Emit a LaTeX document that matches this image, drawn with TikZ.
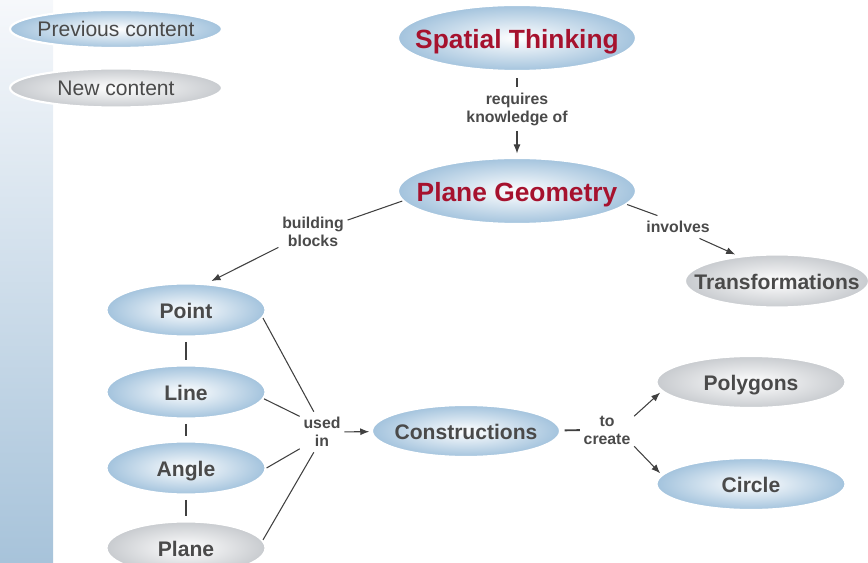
\documentclass[tikz,border=0pt]{standalone}
\usepackage{fontspec}
\setmainfont{Liberation Sans}
\usetikzlibrary{arrows.meta,shapes.geometric}
\definecolor{Ink}{HTML}{4A4A4A}
\definecolor{Title}{HTML}{A6122E}
\definecolor{Wire}{HTML}{404040}
\definecolor{BlueEdge}{HTML}{A3C3DD}
\definecolor{GreyEdge}{HTML}{C8CBCF}
\definecolor{StripTop}{HTML}{F6F8FB}
\definecolor{StripBot}{HTML}{A7C3DA}
\tikzset{
  bubble/.style={ellipse,draw=white,line width=1.2pt,inner sep=0pt},
  oldbubble/.style={bubble,inner color=white,outer color=BlueEdge},
  newbubble/.style={bubble,inner color=white,outer color=GreyEdge},
  big/.style={minimum width=4.76cm,minimum height=1.32cm},
  small/.style={minimum width=3.18cm,minimum height=1.06cm},
  wide/.style={minimum width=3.78cm,minimum height=1.04cm},
  capline/.style={text height=0.716em,text depth=0pt},
  word/.style={capline,yshift=-1.2pt,text=Ink,font=\fontsize{12}{14}\selectfont\bfseries},
  keyword/.style={capline,yshift=-0.6pt,text=Ink,font=\fontsize{12}{14}\selectfont},
  topword/.style={capline,yshift=-2.2pt,text=Title,font=\fontsize{15}{18}\selectfont\bfseries},
  linkword/.style={text=Ink,font=\fontsize{9}{10.2}\selectfont\bfseries,align=center,inner xsep=2pt,inner ysep=3pt},
  wire/.style={draw=Wire,line width=0.6pt},
  stub/.style={draw=Wire,line width=1.1pt,shorten <=2.5pt,shorten >=2.5pt},
  arrow/.style={wire,-{Latex[length=1.8mm,width=1.4mm]}}
}
\begin{document}
\begin{tikzpicture}[x=0.02cm,y=-0.02cm]
  \useasboundingbox (0,0) rectangle (868,563);
  \clip (0,0) rectangle (868,563);
  % side strip
  \shade[top color=StripTop,bottom color=StripBot] (0,0) rectangle (53,563);
  % legend
  \node[oldbubble,minimum width=4.24cm,minimum height=0.76cm,label={[keyword]center:Previous content}] (prev) at (116,29) {};
  \node[newbubble,minimum width=4.24cm,minimum height=0.78cm,label={[keyword]center:New content}] (new) at (116,88) {};
  % top
  \node[oldbubble,big,label={[topword]center:Spatial Thinking}] (spatial) at (517,38) {};
  \node[linkword] (req) at (517,109) {requires\\knowledge of};
  \node[oldbubble,big,label={[topword]center:Plane Geometry}] (geom) at (517,191) {};
  \node[linkword] (build) at (313,232) {building\\blocks};
  \node[linkword] (inv) at (678,227) {involves};
  \node[newbubble,minimum width=3.68cm,minimum height=1.06cm,label={[word]center:Transformations}] (trans) at (777,281) {};
  % building blocks
  \node[oldbubble,small,label={[word]center:Point}] (pt) at (186,310) {};
  \node[oldbubble,small,label={[word]center:Line}] (ln) at (186,392) {};
  \node[oldbubble,small,label={[word]center:Angle}] (ang) at (186,468) {};
  \node[newbubble,small,label={[word]center:Plane}] (pln) at (186,548) {};
  \node[linkword] (used) at (322,432) {used\\in};
  \node[oldbubble,minimum width=3.76cm,minimum height=1.04cm,label={[word]center:Constructions}] (cons) at (466,431) {};
  \node[linkword] (create) at (607,430) {to\\create};
  \node[newbubble,wide,label={[word]center:Polygons}] (poly) at (751,382) {};
  \node[oldbubble,wide,label={[word]center:Circle}] (circ) at (751,484) {};
  % links
  \draw[wire,shorten <=3.5pt] (spatial) -- (req);
  \draw[arrow,shorten >=2pt] (req) -- (geom);
  \draw[wire] (geom.185) -- (build.19);
  \draw[arrow,shorten >=3pt] (build.204) -- (pt.52);
  \draw[wire] (geom.-7) -- (inv.151);
  \draw[arrow,shorten >=2pt] (inv.-28) -- (trans.147);
  \draw[stub] (pt) -- (ln);
  \draw[stub] (ln) -- (ang);
  \draw[stub] (ang) -- (pln);
  \draw[wire] (pt.-6) -- (used.112);
  \draw[wire] (ln.-5) -- (used.145);
  \draw[wire] (ang.0) -- (used.217);
  \draw[wire] (pln.6) -- (used.248);
  \draw[arrow,shorten >=1pt] (used) -- (cons);
  \draw[stub,shorten <=2pt,shorten >=0pt] (cons) -- (create);
  \draw[arrow,shorten >=1pt] (create.27) -- (poly.186);
  \draw[arrow,shorten >=1pt] (create.-31) -- (circ.174);
\end{tikzpicture}
\end{document}
